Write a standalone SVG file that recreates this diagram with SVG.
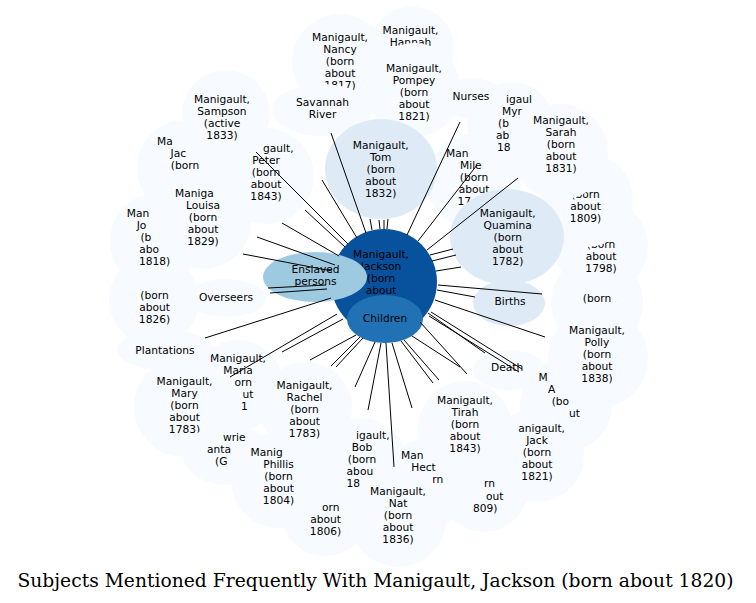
<svg xmlns="http://www.w3.org/2000/svg" width="756" height="603" viewBox="0 0 756 603">
<style>
.n ellipse{fill:#f7fbff}
.m ellipse{fill:#deebf7}
text{font-family:"DejaVu Sans",sans-serif;font-size:10.67px;fill:#000;text-anchor:middle}
text.f{text-anchor:start}
#edges line{stroke:#000;stroke-width:1}
</style>
<rect width="756" height="603" fill="#fff"/>
<g id="n-1826" class="n"><ellipse cx="154" cy="300" rx="45" ry="45"/><text x="154.5" y="299">(born</text><text x="154.5" y="311">about</text><text x="154.5" y="323">1826)</text></g>
<g id="n-jo" class="n"><ellipse cx="154" cy="241" rx="44" ry="47"/><text class="f" x="126.7" y="217">Man</text><text class="f" x="136.7" y="229">Jo</text><text class="f" x="140.4" y="241">(b</text><text class="f" x="139.3" y="253">abo</text><text class="f" x="139" y="265">1818)</text></g>
<g id="n-jacob" class="n"><ellipse cx="185" cy="168" rx="48" ry="48"/><text class="f" x="157" y="144.5">Ma</text><text class="f" x="170.6" y="156.5">Jac</text><text x="185" y="168.5">(born</text></g>
<g id="n-louisa" class="n"><ellipse cx="203" cy="221" rx="48" ry="48"/><text class="f" x="175" y="197">Maniga</text><text x="203" y="209">Louisa</text><text x="203" y="221">(born</text><text x="203" y="233">about</text><text x="203" y="245">1829)</text></g>
<g id="n-peter" class="n"><ellipse cx="266" cy="176" rx="48" ry="48"/><text class="f" x="263" y="151.5">gault,</text><text x="266" y="163.5">Peter</text><text x="266" y="175.5">(born</text><text x="266" y="187.5">about</text><text x="266" y="199.5">1843)</text></g>
<g id="n-sampson" class="n"><ellipse cx="226" cy="114" rx="44" ry="44"/><text x="222" y="103">Manigault,</text><text x="222" y="115">Sampson</text><text x="222" y="127">(active</text><text x="222" y="139">1833)</text></g>
<g id="n-hannah" class="n"><ellipse cx="412" cy="48" rx="42" ry="42"/><text x="410.5" y="33.5">Manigault,</text><text x="410.5" y="45.5">Hannah</text></g>
<g id="n-nancy" class="n"><ellipse cx="340" cy="62" rx="48" ry="48"/><text x="340" y="41">Manigault,</text><text x="340" y="53">Nancy</text><text x="340" y="65">(born</text><text x="340" y="77">about</text><text x="340" y="89">1817)</text></g>
<g id="n-savannah" class="n"><ellipse cx="322" cy="110" rx="50" ry="26"/><text x="322.5" y="106">Savannah</text><text x="322.5" y="118">River</text></g>
<g id="n-pompey" class="n"><ellipse cx="414" cy="90" rx="47" ry="47"/><text x="414" y="72">Manigault,</text><text x="414" y="84">Pompey</text><text x="414" y="96">(born</text><text x="414" y="108">about</text><text x="414" y="120">1821)</text></g>
<g id="n-miley" class="n"><ellipse cx="474" cy="181" rx="47" ry="47"/><text class="f" x="446" y="157">Man</text><text class="f" x="460" y="169">Mile</text><text x="474" y="181">(born</text><text x="474" y="193">about</text><text class="f" x="457.5" y="205">17</text></g>
<g id="n-myra" class="n"><ellipse cx="511" cy="126" rx="44" ry="44"/><text class="f" x="506" y="102.5">igaul</text><text class="f" x="502" y="114.5">Myr</text><text class="f" x="498" y="126.5">(b</text><text class="f" x="496" y="138.5">ab</text><text class="f" x="497" y="150.5">18</text></g>
<g id="n-nurses" class="n"><ellipse cx="471" cy="98" rx="33" ry="20"/><text x="471" y="100">Nurses</text></g>
<g id="n-born-right" class="n"><ellipse cx="597" cy="302" rx="46" ry="46"/><text x="597" y="302">(born</text></g>
<g id="n-1798" class="n"><ellipse cx="601" cy="246" rx="47" ry="47"/><text x="601" y="248">(born</text><text x="601" y="260">about</text><text x="601" y="272">1798)</text></g>
<g id="n-1809a" class="n"><ellipse cx="586" cy="200" rx="47" ry="47"/><text x="585.5" y="197.5">(born</text><text x="585.5" y="209.5">about</text><text x="585.5" y="221.5">1809)</text></g>
<g id="n-sarah" class="n"><ellipse cx="560" cy="152" rx="48" ry="48"/><text x="561" y="124">Manigault,</text><text x="561" y="136">Sarah</text><text x="561" y="148">(born</text><text x="561" y="160">about</text><text x="561" y="172">1831)</text></g>
<g id="n-maria" class="n"><ellipse cx="238" cy="385" rx="45" ry="45"/><text x="238" y="361.5">Manigault,</text><text x="238" y="373.5">Maria</text><text class="f" x="234.6" y="385.5">orn</text><text class="f" x="242.4" y="397.5">ut</text><text class="f" x="241" y="409.5">1</text></g>
<g id="n-mary" class="n"><ellipse cx="184" cy="407" rx="50" ry="50"/><text x="184.5" y="385">Manigault,</text><text x="184.5" y="397">Mary</text><text x="184.5" y="409">(born</text><text x="184.5" y="421">about</text><text x="184.5" y="433">1783)</text></g>
<g id="n-gowrie" class="n"><ellipse cx="228" cy="455" rx="45" ry="30"/><text class="f" x="223" y="441">wrie</text><text class="f" x="207" y="453">anta</text><text class="f" x="215" y="465">(G</text></g>
<g id="n-1806" class="n"><ellipse cx="325" cy="512" rx="44" ry="44"/><text class="f" x="322" y="511">orn</text><text x="325.5" y="523">about</text><text x="325.5" y="535">1806)</text></g>
<g id="n-phillis" class="n"><ellipse cx="279" cy="480" rx="48" ry="48"/><text class="f" x="250.5" y="455.6">Manig</text><text x="278.5" y="467.6">Phillis</text><text x="278.5" y="479.6">(born</text><text x="278.5" y="491.6">about</text><text x="278.5" y="503.6">1804)</text></g>
<g id="n-bob" class="n"><ellipse cx="362" cy="462" rx="44" ry="44"/><text class="f" x="356" y="438.5">igault,</text><text x="362" y="450.5">Bob</text><text x="362" y="462.5">(born</text><text class="f" x="346.6" y="474.5">abou</text><text class="f" x="346.5" y="486.5">18</text></g>
<g id="n-rachel" class="n"><ellipse cx="306" cy="408" rx="46" ry="46"/><text x="304.5" y="389">Manigault,</text><text x="304.5" y="401">Rachel</text><text x="304.5" y="413">(born</text><text x="304.5" y="425">about</text><text x="304.5" y="437">1783)</text></g>
<g id="n-1809b" class="n"><ellipse cx="484" cy="488" rx="44" ry="44"/><text class="f" x="484" y="487">rn</text><text class="f" x="486" y="499.5">out</text><text class="f" x="473" y="511.5">809)</text></g>
<g id="n-hector" class="n"><ellipse cx="429" cy="482" rx="44" ry="44"/><text class="f" x="401" y="459">Man</text><text class="f" x="411.2" y="471">Hect</text><text class="f" x="432.2" y="483">rn</text></g>
<g id="n-nat" class="n"><ellipse cx="398" cy="519" rx="48" ry="48"/><text x="398" y="495">Manigault,</text><text x="398" y="507">Nat</text><text x="398" y="519">(born</text><text x="398" y="531">about</text><text x="398" y="543">1836)</text></g>
<g id="n-deaths" class="n"><ellipse cx="509" cy="370" rx="36" ry="20"/><text class="f" x="491" y="371">Death</text></g>
<g id="n-a" class="n"><ellipse cx="566" cy="405" rx="46" ry="46"/><text class="f" x="538.4" y="381">M</text><text class="f" x="548" y="393">A</text><text class="f" x="551.7" y="405">(bo</text><text class="f" x="569" y="417">ut</text></g>
<g id="n-jack" class="n"><ellipse cx="537" cy="455" rx="47" ry="47"/><text class="f" x="518.2" y="432">anigault,</text><text x="537" y="444">Jack</text><text x="537" y="456">(born</text><text x="537" y="468">about</text><text x="537" y="480">1821)</text></g>
<g id="n-tirah" class="n"><ellipse cx="465" cy="428" rx="47" ry="47"/><text x="465" y="403.5">Manigault,</text><text x="465" y="415.5">Tirah</text><text x="465" y="427.5">(born</text><text x="465" y="439.5">about</text><text x="465" y="451.5">1843)</text></g>
<g id="n-polly" class="n"><ellipse cx="598" cy="358" rx="50" ry="50"/><text x="597" y="334">Manigault,</text><text x="597" y="346">Polly</text><text x="597" y="358">(born</text><text x="597" y="370">about</text><text x="597" y="382">1838)</text></g>
<g id="n-overseers" class="n"><ellipse cx="226" cy="298" rx="40" ry="19"/><text x="226" y="301">Overseers</text></g>
<g id="n-plantations" class="n"><ellipse cx="165" cy="350" rx="48" ry="20"/><text x="165" y="353.5">Plantations</text></g>
<g id="n-tom" class="m"><ellipse cx="381" cy="169" rx="56" ry="50"/><text x="380.7" y="148.5">Manigault,</text><text x="380.7" y="160.5">Tom</text><text x="380.7" y="172.5">(born</text><text x="380.7" y="184.5">about</text><text x="380.7" y="196.5">1832)</text></g>
<g id="n-quamina" class="m"><ellipse cx="507" cy="237" rx="57" ry="48"/><text x="507.7" y="217">Manigault,</text><text x="507.7" y="229">Quamina</text><text x="507.7" y="241">(born</text><text x="507.7" y="253">about</text><text x="507.7" y="265">1782)</text></g>
<g id="n-births" class="m"><ellipse cx="509" cy="303" rx="36" ry="23"/><text x="510" y="305">Births</text></g>
<g id="n-jackson"><circle cx="384" cy="282" r="53" fill="#08519c"/><text x="381" y="258.3">Manigault,</text><text x="381" y="270.3">Jackson</text><text x="381" y="282.3">(born</text><text x="381" y="294.3">about</text><text x="381" y="306.3">1820)</text></g>
<g id="n-enslaved"><ellipse cx="315" cy="277" rx="52" ry="25" fill="#9ecae1"/><text x="315.5" y="273.3">Enslaved</text><text x="315.5" y="285.3">persons</text></g>
<g id="n-children"><ellipse cx="385" cy="319" rx="38" ry="24" fill="#2171b5"/><text x="385" y="321.6">Children</text></g>
<g id="edges">
<line x1="331" y1="133" x2="366" y2="233"/>
<line x1="322" y1="180" x2="357" y2="238"/>
<line x1="256" y1="152" x2="348" y2="244"/>
<line x1="305" y1="210" x2="345" y2="247"/>
<line x1="310" y1="206" x2="348" y2="244"/>
<line x1="282" y1="223" x2="339" y2="256"/>
<line x1="257" y1="237" x2="335" y2="265"/>
<line x1="243" y1="254" x2="332" y2="271"/>
<line x1="268" y1="288" x2="326" y2="285"/>
<line x1="270" y1="293" x2="327" y2="289"/>
<line x1="205" y1="338" x2="331" y2="298"/>
<line x1="370" y1="219" x2="372" y2="230"/>
<line x1="379" y1="220" x2="380" y2="229"/>
<line x1="384" y1="220" x2="384" y2="229"/>
<line x1="388" y1="219" x2="387" y2="229"/>
<line x1="460" y1="122" x2="407" y2="235"/>
<line x1="477" y1="165" x2="418" y2="241"/>
<line x1="518" y1="178" x2="427" y2="250"/>
<line x1="430" y1="255" x2="453" y2="249"/>
<line x1="432" y1="261" x2="456" y2="255"/>
<line x1="436" y1="271" x2="461" y2="267"/>
<line x1="438" y1="285" x2="542" y2="294"/>
<line x1="437" y1="290" x2="475" y2="297"/>
<line x1="435" y1="300" x2="545" y2="337"/>
<line x1="428" y1="313" x2="485" y2="353"/>
<line x1="431" y1="312" x2="522" y2="369"/>
<line x1="429" y1="316" x2="519" y2="372"/>
<line x1="420" y1="322" x2="467" y2="374"/>
<line x1="412" y1="336" x2="460" y2="367"/>
<line x1="404" y1="340" x2="439" y2="380"/>
<line x1="401" y1="341" x2="433" y2="383"/>
<line x1="392" y1="343" x2="412" y2="408"/>
<line x1="386" y1="343" x2="394" y2="467"/>
<line x1="381" y1="343" x2="368" y2="410"/>
<line x1="375" y1="342" x2="355" y2="387"/>
<line x1="363" y1="338" x2="336" y2="367"/>
<line x1="360" y1="337" x2="331" y2="366"/>
<line x1="356" y1="335" x2="310" y2="360"/>
<line x1="343" y1="319" x2="282" y2="352"/>
<line x1="337" y1="314" x2="230" y2="377"/>
</g>
<text x="375.5" y="587" style="font-family:'DejaVu Serif',serif;font-size:18.67px" textLength="716" lengthAdjust="spacingAndGlyphs">Subjects Mentioned Frequently With Manigault, Jackson (born about 1820)</text>
</svg>
